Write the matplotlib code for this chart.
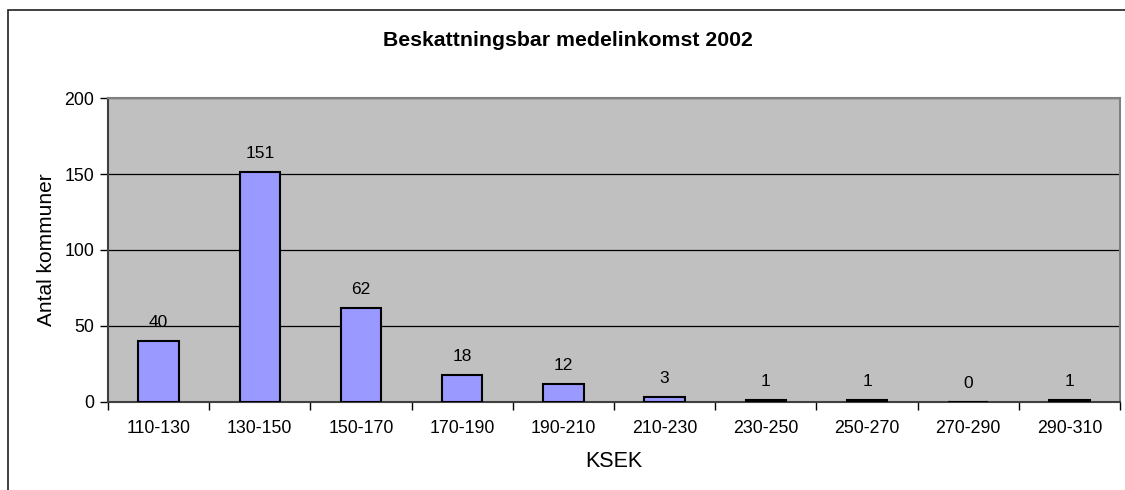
import matplotlib
matplotlib.use("Agg")
import matplotlib.pyplot as plt
from matplotlib.patches import Rectangle

plt.rcParams['font.family'] = ['Liberation Sans', 'DejaVu Sans']

# Data
categories = ['110-130', '130-150', '150-170', '170-190', '190-210',
              '210-230', '230-250', '250-270', '270-290', '290-310']
counts = [40, 151, 62, 18, 12, 3, 1, 1, 0, 1]
y_ticks = [0, 50, 100, 150, 200]

fig = plt.figure(figsize=(11.25, 4.9), dpi=100)

# Outer chart border (cropped on right/bottom like the reference)
fig.patches.append(Rectangle((8 / 1125, -0.1), 1.2, 1 - 10 / 490 + 0.1,
                             transform=fig.transFigure, fill=False,
                             edgecolor='#202020', linewidth=1.2))

ax = fig.add_axes([108 / 1125, 1 - 402 / 490, (1120 - 108) / 1125, (402 - 98) / 490])
ax.set_facecolor('#C0C0C0')

x = list(range(len(categories)))
ax.bar(x, counts, width=0.4, color='#9999FF', edgecolor='black', linewidth=1.5, zorder=3)

for xi, c in zip(x, counts):
    ax.annotate(str(c), (xi, c), xytext=(0, 8), textcoords='offset points',
                ha='center', va='bottom', fontsize=12.5)

ax.set_xlim(-0.5, len(categories) - 0.5)
ax.set_ylim(0, 200)
ax.set_yticks(y_ticks)
ax.yaxis.grid(True, color='black', linewidth=0.9, zorder=1)
ax.set_axisbelow(True)

# ticks at category boundaries, labels at centres
ax.set_xticks([i - 0.5 for i in range(len(categories) + 1)])
ax.set_xticklabels([])
ax.set_xticks(x, minor=True)
ax.set_xticklabels(categories, minor=True, fontsize=12.8)
ax.tick_params(axis='x', which='minor', length=0, pad=13)
ax.tick_params(axis='x', which='major', length=6, width=1, color='black')
ax.tick_params(axis='y', length=6, width=1, labelsize=12.8, pad=4)

ax.spines['left'].set_color('#404040')
ax.spines['bottom'].set_color('#404040')
ax.spines['top'].set_color('#808080')
ax.spines['right'].set_color('#808080')
for s in ax.spines.values():
    s.set_linewidth(1.5)

ax.set_xlabel('KSEK', fontsize=15.5, labelpad=10)
ax.set_ylabel('Antal kommuner', fontsize=15, labelpad=6)

fig.text(568 / 1125, 1 - 40 / 490, 'Beskattningsbar medelinkomst 2002',
         ha='center', va='center', fontsize=15.3, fontweight='bold')

fig.savefig('out.png', dpi=100)
